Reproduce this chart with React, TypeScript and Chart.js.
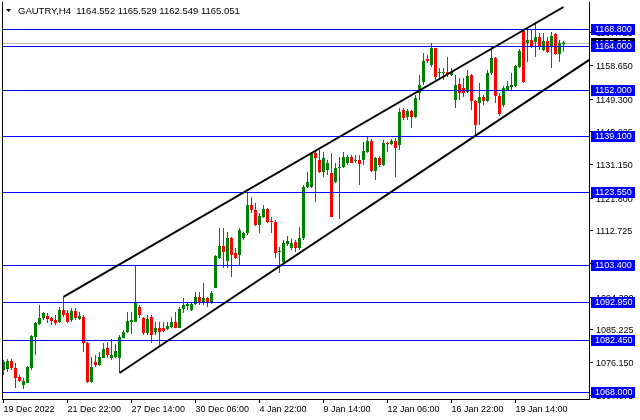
import React, { useEffect, useRef } from "react";
import { Chart, registerables } from "chart.js";

Chart.register(...registerables);

// ---- data (H4 candles) ----
const opens = [
  1074.10, 1074.38, 1076.60, 1074.66, 1072.16, 1069.93, 1070.49, 1074.66, 1083.27, 1086.88,
  1088.54, 1089.10, 1088.54, 1087.99, 1087.43, 1090.77, 1089.93, 1087.99, 1090.49, 1088.27,
  1088.82, 1081.60, 1070.77, 1076.32, 1075.49, 1077.43, 1080.21, 1077.43, 1077.71, 1077.43,
  1082.99, 1084.66, 1087.43, 1087.43, 1091.60, 1088.54, 1084.38, 1088.82, 1084.66, 1085.77,
  1085.77, 1085.49, 1086.04, 1087.43, 1085.77, 1091.04, 1091.88, 1090.77, 1092.43, 1094.38,
  1092.71, 1094.10, 1092.71, 1096.87, 1105.20, 1108.54, 1104.37, 1110.76, 1106.59, 1106.04,
  1110.76, 1112.15, 1119.92, 1118.53, 1114.37, 1116.59, 1118.81, 1115.48, 1115.20, 1106.87,
  1104.09, 1109.09, 1107.98, 1109.65, 1107.98, 1110.76, 1124.92, 1124.92, 1134.36, 1132.42,
  1129.09, 1129.64, 1128.81, 1126.31, 1130.20, 1130.48, 1131.59, 1133.25, 1132.14, 1132.42,
  1132.42, 1134.64, 1137.69, 1129.37, 1132.98, 1131.03, 1137.14, 1136.86, 1137.69, 1136.58,
  1146.30, 1144.36, 1146.03, 1144.36, 1151.02, 1154.08, 1160.47, 1158.80, 1163.52, 1156.58,
  1156.58, 1156.86, 1156.02, 1149.08, 1153.52, 1152.41, 1151.30, 1156.02, 1148.80, 1148.25,
  1149.92, 1148.80, 1156.58, 1160.74, 1150.19, 1147.69, 1151.86, 1152.69, 1152.97, 1158.24,
  1168.24, 1164.91, 1165.74, 1165.19, 1166.58, 1162.97, 1165.46, 1164.08, 1167.41, 1161.85,
  1164.552,
];
const highs = [
  1076.88, 1077.16, 1077.16, 1076.04, 1072.71, 1071.88, 1075.21, 1083.82, 1087.43, 1092.15,
  1090.21, 1089.93, 1088.82, 1089.38, 1091.60, 1094.38, 1090.77, 1091.32, 1091.32, 1090.21,
  1089.38, 1081.88, 1077.71, 1078.27, 1079.10, 1081.60, 1081.88, 1082.71, 1081.32, 1083.82,
  1085.21, 1090.21, 1090.21, 1103.26, 1092.15, 1088.82, 1089.38, 1089.38, 1087.43, 1087.43,
  1087.43, 1087.43, 1088.82, 1090.21, 1091.60, 1094.10, 1092.99, 1092.99, 1095.76, 1095.76,
  1098.26, 1094.38, 1096.04, 1106.04, 1113.54, 1113.54, 1112.43, 1111.04, 1107.98, 1113.54,
  1112.43, 1123.53, 1122.14, 1120.48, 1117.70, 1119.92, 1119.09, 1116.59, 1115.76, 1108.26,
  1110.20, 1111.31, 1110.48, 1110.20, 1113.81, 1125.48, 1129.09, 1134.64, 1135.19, 1135.19,
  1134.64, 1132.42, 1134.36, 1131.59, 1133.25, 1134.64, 1133.81, 1133.81, 1133.81, 1133.81,
  1137.42, 1138.81, 1138.25, 1133.25, 1133.53, 1137.97, 1137.42, 1138.25, 1138.53, 1146.86,
  1146.86, 1146.58, 1146.30, 1150.47, 1156.02, 1162.13, 1161.58, 1164.91, 1163.52, 1157.97,
  1157.97, 1161.02, 1157.97, 1156.02, 1155.19, 1155.19, 1157.41, 1156.30, 1149.08, 1153.80,
  1150.47, 1157.41, 1163.80, 1161.02, 1151.02, 1152.97, 1154.36, 1156.58, 1158.80, 1163.24,
  1168.80, 1168.52, 1168.52, 1170.74, 1167.69, 1167.69, 1166.58, 1167.97, 1167.69, 1165.74,
  1165.529,
];
const lows = [
  1072.71, 1073.55, 1074.10, 1069.10, 1070.77, 1068.82, 1070.49, 1074.10, 1078.27, 1086.60,
  1087.99, 1087.15, 1086.60, 1086.60, 1087.15, 1088.82, 1087.15, 1087.43, 1087.99, 1087.99,
  1079.10, 1070.49, 1070.49, 1074.93, 1075.21, 1077.43, 1077.43, 1076.88, 1077.43, 1073.27,
  1082.99, 1084.38, 1084.10, 1087.43, 1088.54, 1083.82, 1083.82, 1081.60, 1083.82, 1081.05,
  1084.66, 1085.21, 1085.77, 1085.77, 1085.77, 1089.93, 1090.77, 1090.49, 1092.15, 1092.15,
  1092.15, 1091.60, 1092.43, 1096.87, 1104.93, 1102.43, 1102.43, 1099.93, 1104.93, 1103.26,
  1110.20, 1111.59, 1117.70, 1114.09, 1112.15, 1116.31, 1114.92, 1112.15, 1105.20, 1101.04,
  1103.82, 1108.54, 1107.43, 1106.87, 1107.43, 1110.20, 1124.64, 1124.64, 1120.76, 1128.81,
  1127.70, 1128.25, 1116.59, 1126.03, 1116.04, 1130.20, 1131.03, 1131.59, 1131.59, 1125.48,
  1131.03, 1134.36, 1129.09, 1126.86, 1130.48, 1130.75, 1134.64, 1136.58, 1127.70, 1135.19,
  1143.53, 1143.53, 1141.30, 1144.08, 1149.08, 1153.25, 1159.36, 1158.24, 1154.63, 1155.19,
  1154.63, 1155.47, 1155.75, 1146.86, 1149.08, 1149.92, 1151.02, 1146.30, 1139.36, 1142.14,
  1147.69, 1148.53, 1156.02, 1148.25, 1144.64, 1147.14, 1151.58, 1151.86, 1152.69, 1157.97,
  1153.80, 1159.63, 1163.52, 1161.02, 1162.97, 1162.69, 1162.13, 1157.97, 1161.58, 1159.63,
  1162.549,
];
const closes = [
  1076.32, 1076.60, 1074.66, 1071.88, 1071.05, 1071.05, 1074.93, 1083.54, 1087.15, 1088.54,
  1089.93, 1088.27, 1087.71, 1087.15, 1090.77, 1089.38, 1087.43, 1090.49, 1088.54, 1089.10,
  1081.60, 1070.77, 1074.93, 1075.49, 1077.71, 1079.93, 1078.27, 1078.27, 1079.38, 1083.27,
  1084.66, 1087.71, 1087.99, 1092.71, 1089.38, 1084.38, 1088.27, 1083.82, 1085.77, 1084.66,
  1084.93, 1086.32, 1087.43, 1085.77, 1091.04, 1092.15, 1092.43, 1092.43, 1094.38, 1092.99,
  1094.10, 1092.99, 1095.49, 1105.76, 1108.54, 1106.87, 1110.76, 1106.04, 1105.20, 1112.98,
  1112.15, 1119.92, 1118.53, 1114.37, 1116.87, 1118.81, 1115.20, 1115.20, 1106.59, 1107.15,
  1109.37, 1109.92, 1109.37, 1107.98, 1110.76, 1124.92, 1126.31, 1134.36, 1132.98, 1129.09,
  1132.98, 1131.59, 1116.59, 1130.20, 1130.48, 1133.25, 1133.25, 1131.59, 1132.42, 1131.31,
  1134.92, 1137.69, 1129.37, 1132.98, 1131.03, 1137.14, 1136.86, 1137.69, 1135.75, 1145.75,
  1144.08, 1146.03, 1144.36, 1149.64, 1153.25, 1159.91, 1159.91, 1163.52, 1155.47, 1156.86,
  1156.86, 1156.02, 1156.86, 1153.25, 1151.02, 1151.02, 1155.75, 1148.80, 1142.14, 1149.92,
  1148.80, 1156.58, 1160.74, 1150.19, 1145.19, 1152.41, 1152.97, 1153.25, 1158.52, 1162.69,
  1154.08, 1165.74, 1163.80, 1166.58, 1163.80, 1165.46, 1162.41, 1166.85, 1161.85, 1164.91,
  1165.051,
];

const xTickIndex = [0, 16, 32, 48, 64, 80, 96, 112, 128];
const xTickLabels = [
  "19 Dec 2022", "21 Dec 22:00", "27 Dec 14:00", "30 Dec 06:00", "4 Jan 22:00",
  "9 Jan 14:00", "12 Jan 06:00", "16 Jan 22:00", "19 Jan 14:00",
];
const yTickValues = [
  1167.725, 1158.65, 1149.3, 1140.225, 1131.15, 1121.8, 1112.725, 1103.65,
  1094.3, 1085.225, 1076.15, 1067.075,
];
const levelValues = [1168.8, 1164.0, 1152.0, 1139.1, 1123.55, 1103.4, 1092.95, 1082.45, 1068.0];
const bidValue = 1165.051;
const upperTrendX = [15, 140];
const upperTrendY = [1094.38, 1174.91];
const lowerTrendX = [29, 150];
const lowerTrendY = [1073.27, 1162.87];
const titleText = "GAUTRY,H4  1164.552 1165.529 1162.549 1165.051";

const GREEN = "#008000";
const RED = "#ff0000";
const BLUE = "#0000ff";
const FONT = "Liberation Sans";

export default function App() {
  const ref = useRef<HTMLCanvasElement | null>(null);

  useEffect(() => {
    document.body.style.margin = "0";
    const canvas = ref.current;
    if (!canvas) return;

    const idx = opens.map((_, i) => i);
    const colors = idx.map((i) => (closes[i] >= opens[i] ? GREEN : RED));

    const hLine = (chart: any, v: number, color: string) => {
      const ctx = chart.ctx as CanvasRenderingContext2D;
      const area = chart.chartArea;
      const y = Math.round(chart.scales.y.getPixelForValue(v)) + 0.5;
      ctx.strokeStyle = color;
      ctx.lineWidth = 1;
      ctx.beginPath();
      ctx.moveTo(area.left + 1, y);
      ctx.lineTo(area.right, y);
      ctx.stroke();
    };

    const overlay = {
      id: "mt4Overlay",
      beforeDatasetsDraw(chart: any) {
        const ctx = chart.ctx as CanvasRenderingContext2D;
        ctx.save();
        hLine(chart, bidValue, "#c0c0c0");
        ctx.restore();
      },
      afterDatasetDraw(chart: any, args: any) {
        if (args.index !== 1) return;
        const ctx = chart.ctx as CanvasRenderingContext2D;
        ctx.save();
        levelValues.forEach((v) => hLine(chart, v, BLUE));
        ctx.restore();
      },
      afterDraw(chart: any) {
        const ctx = chart.ctx as CanvasRenderingContext2D;
        const area = chart.chartArea;
        const ys = chart.scales.y;
        ctx.save();
        // left frame
        ctx.fillStyle = "#000";
        ctx.fillRect(area.left, area.top, 1, area.bottom - area.top);
        // title
        ctx.beginPath();
        ctx.moveTo(6, 9);
        ctx.lineTo(11, 9);
        ctx.lineTo(8.5, 12);
        ctx.closePath();
        ctx.fill();
        ctx.font = `9.5px "${FONT}"`;
        ctx.textBaseline = "alphabetic";
        ctx.textAlign = "left";
        ctx.fillText(titleText, 18, 14);
        // price boxes on the axis
        ctx.font = `9px "${FONT}"`;
        const bx = ys.left + 2;
        const drawBox = (v: number, bg: string) => {
          const y = Math.round(ys.getPixelForValue(v));
          ctx.fillStyle = bg;
          ctx.fillRect(bx, y - 5, 44, 11);
          ctx.fillStyle = "#fff";
          ctx.textBaseline = "middle";
          ctx.fillText(v.toFixed(3), bx + 4, y + 0.5);
        };
        drawBox(bidValue, "#000");
        levelValues.forEach((v) => drawBox(v, BLUE));
        ctx.restore();
      },
    };

    const chart = new Chart(canvas, {
      type: "bar",
      data: {
        datasets: [
          {
            type: "bar" as const,
            data: idx.map((i) => ({ x: i, y: [lows[i], highs[i]] })),
            backgroundColor: colors,
            barThickness: 1,
            minBarLength: 1,
            grouped: false,
            inflateAmount: 0,
            borderWidth: 0,
            order: 3,
          },
          {
            type: "bar" as const,
            data: idx.map((i) => ({ x: i, y: [opens[i], closes[i]] })),
            backgroundColor: colors,
            barThickness: 3,
            minBarLength: 1,
            grouped: false,
            inflateAmount: 0,
            borderWidth: 0,
            order: 2,
          },
          {
            type: "line" as const,
            data: upperTrendX.map((x, k) => ({ x, y: upperTrendY[k] })),
            borderColor: "#000",
            borderWidth: 2,
            pointRadius: 0,
            fill: false,
            clip: 0,
            order: 0,
          },
          {
            type: "line" as const,
            data: lowerTrendX.map((x, k) => ({ x, y: lowerTrendY[k] })),
            borderColor: "#000",
            borderWidth: 2,
            pointRadius: 0,
            fill: false,
            clip: 0,
            order: 0,
          },
        ] as any,
      },
      options: {
        responsive: false,
        animation: false,
        devicePixelRatio: 1,
        layout: { padding: { left: 2, top: 2, right: 0, bottom: 0 } },
        plugins: {
          legend: { display: false },
          tooltip: { enabled: false },
          title: { display: false },
        },
        scales: {
          x: {
            type: "linear",
            position: "bottom",
            min: -0.375,
            max: 146.375,
            offset: false,
            grid: {
              display: true,
              drawOnChartArea: false,
              drawTicks: true,
              tickLength: 4,
              color: "#000",
              offset: false,
            },
            border: { display: true, color: "#000", width: 1 },
            ticks: {
              autoSkip: false,
              maxRotation: 0,
              minRotation: 0,
              align: "start",
              padding: 1,
              color: "#000",
              font: { family: FONT, size: 9 },
              callback: (v: any) => {
                const k = xTickIndex.indexOf(Number(v));
                return k >= 0 ? xTickLabels[k] : "";
              },
            },
            afterBuildTicks: (s: any) => {
              s.ticks = xTickIndex.map((v) => ({ value: v }));
            },
            afterFit: (s: any) => {
              s.height = 21;
              s.paddingLeft = 0;
              s.paddingRight = 0;
              s.paddingTop = 0;
              s.paddingBottom = 0;
            },
          },
          y: {
            type: "linear",
            position: "right",
            min: 1066.05,
            max: 1176.3,
            grid: {
              display: true,
              drawOnChartArea: false,
              drawTicks: true,
              tickLength: 4,
              color: "#000",
            },
            border: { display: true, color: "#000", width: 1 },
            ticks: {
              padding: 3,
              color: "#000",
              labelOffset: 1,
              font: { family: FONT, size: 9 },
              callback: (v: any) => Number(v).toFixed(3),
            },
            afterBuildTicks: (s: any) => {
              s.ticks = yTickValues.map((v) => ({ value: v }));
            },
            afterFit: (s: any) => {
              s.width = 51;
              s.paddingTop = 0;
              s.paddingBottom = 0;
              s.paddingLeft = 0;
              s.paddingRight = 0;
            },
          },
        },
      } as any,
      plugins: [overlay],
    });

    return () => chart.destroy();
  }, []);

  return <canvas ref={ref} width={640} height={420} style={{ display: "block" }} />;
}
